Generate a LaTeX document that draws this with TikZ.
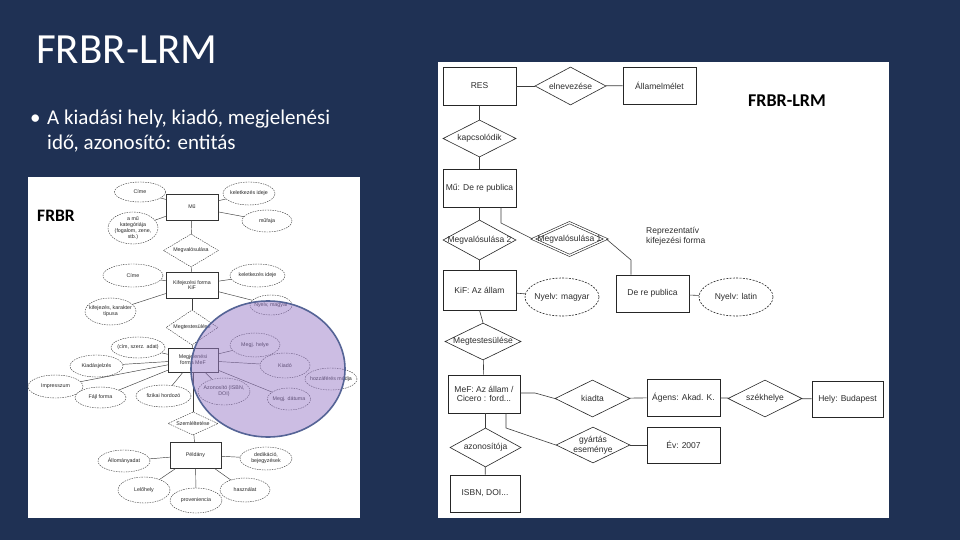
\documentclass[tikz,border=0pt]{standalone}
\usepackage{fontspec}
\setmainfont{Carlito}
\newfontfamily\arialf{Liberation Sans}
\usetikzlibrary{shapes.geometric}
\definecolor{slidebg}{RGB}{31,49,84}
\definecolor{lgray}{RGB}{60,60,60}
\definecolor{tgray}{RGB}{45,45,45}
\definecolor{circfill}{RGB}{155,125,201}
\definecolor{circdraw}{RGB}{85,100,150}
\tikzset{
  rtxt/.style={font=\arialf\fontsize{8.5}{9.8}\selectfont, text=tgray, align=center, inner sep=0pt},
  rbox/.style={draw=black!85, line width=0.6pt, fill=white, inner sep=0pt},
  rdia/.style={diamond, draw=black!85, line width=0.6pt, fill=white, inner sep=0pt},
  rell/.style={ellipse, draw=black!85, line width=0.6pt, dash pattern=on 2pt off 1.3pt, fill=white, inner sep=0pt},
  rcon/.style={draw=lgray, line width=0.6pt},
  ltxt/.style={font=\arialf\fontsize{5.3}{5.9}\selectfont, text=black!85, align=center, inner sep=0pt},
  lbox/.style={draw=black!80, line width=0.5pt, fill=white, inner sep=0pt},
  ldia/.style={diamond, draw=black!80, line width=0.4pt, dash pattern=on 1.5pt off 1pt, fill=white, inner sep=0pt},
  lell/.style={ellipse, draw=black!80, line width=0.4pt, dash pattern=on 1.5pt off 1pt, fill=white, inner sep=0pt},
  lcon/.style={draw=lgray, line width=0.45pt},
  slidetxt/.style={text=white, inner sep=0pt, anchor=base west}
}
\begin{document}
\begin{tikzpicture}[x=1pt,y=-1pt]
\useasboundingbox (0,0) rectangle (960,540);
\fill[slidebg] (0,0) rectangle (960,540);

% slide texts
\node[slidetxt, font=\fontsize{43}{43}\selectfont] (title) at (36,64) {FRBR-LRM};
\node[slidetxt, font=\fontsize{21}{22}\selectfont] (bullet) at (30,125) {•};
\node[slidetxt, font=\fontsize{21}{22}\selectfont] (bline1) at (47,125) {A kiadási hely, kiadó, megjelenési};
\node[slidetxt, font=\fontsize{21}{22}\selectfont] (bline2) at (47,150) {idő, azonosító: entitás};

% picture backgrounds
\fill[white] (28,177) rectangle (360,518);
\fill[white] (438,62) rectangle (889,518);

% ================= LEFT (FRBR) =================
\node[font=\bfseries\fontsize{17.5}{18}\selectfont, text=black, inner sep=0pt] (frbr) at (56,216) {FRBR};

\node[lell, minimum width=51, minimum height=20, label={[ltxt]center:Címe}] (lcime1) at (140,192) {};
\node[lbox, minimum width=52, minimum height=26, label={[ltxt]center:Mű}] (lmu) at (192,207) {};
\node[lell, minimum width=52, minimum height=23, label={[ltxt]center:keletkezés ideje}] (lkel1) at (249,193.5) {};
\node[lell, minimum width=50, minimum height=22, label={[ltxt]center:műfaja}] (lmufaj) at (267,221) {};
\node[lell, minimum width=50, minimum height=32, label={[ltxt]center:{a mű\\kategóriája\\(fogalom, zene,\\stb.)}}] (lkat) at (133,228) {};
\node[ldia, minimum width=55, minimum height=33, label={[ltxt]center:Megvalósulása}] (lmegv) at (191,250.5) {};
\node[lbox, minimum width=52, minimum height=26, label={[ltxt]center:{Kifejezési forma\\KiF}}] (lkif) at (192,285) {};
\node[lell, minimum width=60, minimum height=23, label={[ltxt]center:Címe}] (lcime2) at (133,275.5) {};
\node[lell, minimum width=55, minimum height=23, label={[ltxt]center:keletkezés ideje}] (lkel2) at (257.5,275.5) {};
\node[lell, minimum width=42, minimum height=20, label={[ltxt]center:Nyelv, magyar}] (lnyelv) at (271,305) {};
\node[lell, minimum width=51, minimum height=27, label={[ltxt]center:{kifejezés, karakter\\típusa}}] (lkiftip) at (110.5,311.5) {};
\node[ldia, minimum width=52, minimum height=35, label={[ltxt]center:Megtestesülése}] (lmegt) at (192,327.5) {};
\node[lell, minimum width=54, minimum height=21, label={[ltxt]center:(cím, szerz. adat)}] (lcim3) at (138,347.5) {};
\node[lell, minimum width=53, minimum height=22, label={[ltxt]center:Kiadásjelzés}] (lkiad) at (96.5,366) {};
\node[lell, minimum width=55, minimum height=23, label={[ltxt]center:Impresszum}] (limpr) at (55.5,386.5) {};
\node[lell, minimum width=51, minimum height=21, label={[ltxt]center:Fájl forma}] (lfajl) at (100.5,397.5) {};
\node[lell, minimum width=55, minimum height=22, label={[ltxt]center:fizikai hordozó}] (lfiz) at (163.5,396) {};
\node[lell, minimum width=50, minimum height=24, label={[ltxt]center:Megj. helye}] (lmhely) at (255,345) {};
\node[lell, minimum width=50, minimum height=25, label={[ltxt]center:Kiadó}] (lkiado) at (285,365.5) {};
\node[lell, minimum width=52, minimum height=22, label={[ltxt]center:hozzáférés módja}] (lhozz) at (331,379) {};
\node[lell, minimum width=52, minimum height=27, label={[ltxt]center:{Azonosító (ISBN,\\DOI)}}] (lazon) at (224,391.5) {};
\node[lell, minimum width=43, minimum height=22, label={[ltxt]center:Megj. dátuma}] (lmdat) at (289,399) {};
\node[lbox, minimum width=50, minimum height=24, label={[ltxt]center:{Megjelenési\\forma MeF}}] (lmef) at (193,360) {};
\node[ldia, minimum width=50, minimum height=23, label={[ltxt]center:Szemléltetése}] (lszem) at (193,423.5) {};
\node[lbox, minimum width=51, minimum height=26, label={[ltxt]center:Példány}] (lpld) at (195.5,455) {};
\node[lell, minimum width=52, minimum height=22, label={[ltxt]center:Állományadat}] (lallom) at (124,461) {};
\node[lell, minimum width=52, minimum height=26, label={[ltxt]center:Lelőhely}] (llelo) at (144,490) {};
\node[lell, minimum width=52, minimum height=25, label={[ltxt]center:proveniencia}] (lprov) at (196,500.5) {};
\node[lell, minimum width=52, minimum height=23, label={[ltxt]center:{dedikáció,\\bejegyzések}}] (lded) at (266,458.5) {};
\node[lell, minimum width=50, minimum height=24, label={[ltxt]center:használat}] (lhasz) at (245,490) {};

\draw[lcon] (lcime1) -- (lmu);
\draw[lcon] (lkel1) -- (lmu);
\draw[lcon] (lmufaj) -- (lmu);
\draw[lcon] (lkat) -- (lmu);
\draw[lcon] (lmu) -- (lmegv);
\draw[lcon] (lmegv) -- (lkif);
\draw[lcon] (lcime2) -- (lkif);
\draw[lcon] (lkel2) -- (lkif);
\draw[lcon] (lnyelv) -- (lkif);
\draw[lcon] (lkiftip) -- (lkif);
\draw[lcon] (lkif) -- (lmegt);
\draw[lcon] (lmegt) -- (lmef);
\draw[lcon] (lcim3) -- (lmef);
\draw[lcon] (lkiad) -- (lmef);
\draw[lcon] (limpr) -- (lmef);
\draw[lcon] (lfajl) -- (lmef);
\draw[lcon] (lfiz) -- (lmef);
\draw[lcon] (lmhely) -- (lmef);
\draw[lcon] (lkiado) -- (lmef);
\draw[lcon] (lazon) -- (lmef);
\draw[lcon] (lmdat) -- (lmef);
\draw[lcon] (lmef) -- (lszem);
\draw[lcon] (lszem) -- (lpld);
\draw[lcon] (lallom) -- (lpld);
\draw[lcon] (llelo) -- (lpld);
\draw[lcon] (lprov) -- (lpld);
\draw[lcon] (lded) -- (lpld);
\draw[lcon] (lhasz) -- (lpld);

% purple highlight
\draw[circdraw, line width=1.6pt, fill=circfill, fill opacity=0.5] (268,369) ellipse [x radius=77, y radius=68];

% ================= RIGHT (FRBR-LRM) =================
\node[font=\bfseries\fontsize{18}{18}\selectfont, text=black, inner sep=0pt] (lrm) at (787,101) {FRBR-LRM};

\node[rbox, minimum width=73, minimum height=38, label={[rtxt]center:RES}] (res) at (479.5,86) {};
\node[rdia, minimum width=71, minimum height=38, label={[rtxt]center:elnevezése}] (eln) at (570.5,86) {};
\node[rbox, minimum width=73, minimum height=37, label={[rtxt]center:Államelmélet}] (allam) at (659.5,85.5) {};
\node[rdia, minimum width=73, minimum height=37, label={[rtxt]center:kapcsolódik}] (kapcs) at (479.5,138.5) {};
\node[rbox, minimum width=73, minimum height=38, label={[rtxt]center:Mű: De re publica}] (mu) at (479.5,188) {};
\node[rdia, minimum width=73, minimum height=40, label={[rtxt]center:Megvalósulása 2}] (megv2) at (479.5,240) {};
\node[rdia, double, double distance=1.4pt, minimum width=73, minimum height=33, label={[rtxt]center:Megvalósulása 1}] (megv1) at (569.5,239) {};
\node[rtxt, anchor=west, align=left] (repr) at (646,236.5) {Reprezentatív\\kifejezési forma};
\node[rbox, minimum width=73, minimum height=37, label={[rtxt]center:De re publica}] (derep) at (652.5,293.5) {};
\node[rell, minimum width=74, minimum height=38, label={[rtxt]center:Nyelv: latin}] (nyl) at (736,297) {};
\node[rbox, minimum width=73, minimum height=40, label={[rtxt]center:KiF: Az állam}] (kif) at (479.5,290) {};
\node[rell, minimum width=74, minimum height=38, label={[rtxt]center:Nyelv: magyar}] (nym) at (562,297) {};
\node[rdia, minimum width=76, minimum height=37, label={[rtxt]center:Megtestesülése}] (megt) at (483,341.5) {};
\node[rbox, minimum width=72, minimum height=38, label={[rtxt]center:{MeF: Az állam /\\Cicero : ford...}}] (mef) at (484,394) {};
\node[rdia, minimum width=75, minimum height=37, label={[rtxt]center:kiadta}] (kiadta) at (592.5,398.5) {};
\node[rbox, minimum width=73, minimum height=37, label={[rtxt]center:Ágens: Akad. K.}] (agens) at (683.5,397.5) {};
\node[rdia, minimum width=74, minimum height=37, label={[rtxt]center:székhelye}] (szek) at (765,398.5) {};
\node[rbox, minimum width=71, minimum height=36, label={[rtxt]center:Hely: Budapest}] (hely) at (847.5,399) {};
\node[rdia, minimum width=74, minimum height=36, label={[rtxt]center:{gyártás\\eseménye}}] (gyart) at (593,445) {};
\node[rbox, minimum width=73, minimum height=36, label={[rtxt]center:Év: 2007}] (ev) at (683.5,445) {};
\node[rdia, minimum width=71, minimum height=39, label={[rtxt]center:azonosítója}] (azon) at (485.5,447.5) {};
\node[rbox, minimum width=70, minimum height=37, label={[rtxt]center:ISBN, DOI...}] (isbn) at (485,493.5) {};

\coordinate (m1) at (501,223);
\coordinate (m2) at (631,260);
\coordinate (m3) at (535,393);
\coordinate (m4) at (506,428);

\draw[rcon] (res) -- (eln);
\draw[rcon] (eln) -- (allam);
\draw[rcon] (res) -- (kapcs);
\draw[rcon] (kapcs) -- (mu);
\draw[rcon] (mu) -- (megv2);
\draw[rcon] (m1 |- mu.south) -- (m1) -- (megv1.west);
\draw[rcon] (megv1.east) -- (m2) -- (m2 |- derep.north);
\draw[rcon] (derep) -- (nyl);
\draw[rcon] (megv2) -- (kif);
\draw[rcon] (kif) -- (nym);
\draw[rcon] (kif.south) -- (megt.north);
\draw[rcon] (megt) -- (mef);
\draw[rcon] (mef.east |- m3) -- (m3) -- (kiadta.west);
\draw[rcon] (kiadta) -- (agens);
\draw[rcon] (agens) -- (szek);
\draw[rcon] (szek) -- (hely);
\draw[rcon] (m4 |- mef.south) -- (m4) -- (gyart.west);
\draw[rcon] (gyart) -- (ev);
\draw[rcon] (mef.south -| azon.north) -- (azon);
\draw[rcon] (azon) -- (isbn);
\end{tikzpicture}
\end{document}
